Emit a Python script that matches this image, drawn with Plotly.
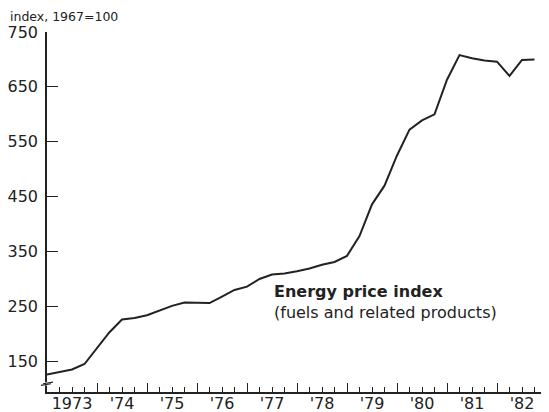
import plotly.graph_objects as go

# quarterly energy price index, 1973Q1 .. 1982Q4
quarters = [1973 + i * 0.25 for i in range(40)]
index_values = [126, 130, 135, 145, 175, 203, 226, 229, 234, 243,
                251, 257, 257, 256, 268, 280, 286, 300, 308, 310,
                314, 319, 326, 331, 342, 378, 436, 470, 525, 572,
                589, 600, 663, 708, 702, 698, 696, 670, 699, 700]

year_ticks = list(range(1973, 1984))
label_pos = [y + 0.5 for y in range(1973, 1983)]
label_text = ["1973", "'74", "'75", "'76", "'77", "'78", "'79", "'80", "'81", "'82"]
y_ticks = [150, 250, 350, 450, 550, 650, 750]

FONT = "DejaVu Sans"
INK = "#222222"

fig = go.Figure()
fig.add_trace(go.Scatter(x=quarters, y=index_values, mode="lines",
                         line=dict(color=INK, width=2), showlegend=False,
                         xaxis="x", yaxis="y"))
# invisible trace for the label axis
fig.add_trace(go.Scatter(x=[quarters[0]], y=[index_values[0]], mode="markers",
                         marker=dict(opacity=0), showlegend=False,
                         xaxis="x2", yaxis="y", hoverinfo="skip"))

xr = [1973, 1983]
fig.update_layout(
    width=549, height=412,
    margin=dict(l=39, r=10, t=24, b=28),
    paper_bgcolor="white", plot_bgcolor="white",
    font=dict(family=FONT, color=INK, size=16),
    xaxis=dict(range=xr, tickmode="array", tickvals=year_ticks,
               ticktext=[""] * len(year_ticks), ticks="inside", ticklen=9,
               tickwidth=1.3, tickcolor=INK, showline=True, linecolor=INK,
               linewidth=1.5, showgrid=False, zeroline=False,
               minor=dict(tickmode="linear", tick0=1973, dtick=0.25,
                          ticks="inside", ticklen=5, tickcolor=INK, tickwidth=1,
                          showgrid=False),
               automargin=False),
    xaxis2=dict(range=xr, overlaying="x", side="bottom", tickmode="array",
                tickvals=label_pos, ticktext=label_text, ticks="",
                showline=False, showgrid=False, zeroline=False,
                tickfont=dict(family=FONT, size=16, color=INK),
                automargin=False),
    yaxis=dict(range=[94, 750], tickmode="array", tickvals=y_ticks,
               ticks="inside", ticklen=11, tickwidth=1.3, tickcolor=INK,
               showline=True, linecolor=INK, linewidth=1.5, showgrid=False,
               zeroline=False, tickfont=dict(family=FONT, size=16, color=INK),
               ticklabelstandoff=4, automargin=False),
)

fig.add_annotation(text="index, 1967=100", xref="paper", yref="paper",
                   x=-39 / 500, y=1.0, xanchor="left", yanchor="bottom",
                   yshift=6, showarrow=False,
                   font=dict(family=FONT, size=12.5, color=INK))
fig.add_annotation(text="<b>Energy price index</b>", xref="x", yref="y",
                   x=1977.5, y=277, xanchor="left", yanchor="middle",
                   showarrow=False, font=dict(family=FONT, size=16, color=INK))
fig.add_annotation(text="(fuels and related products)", xref="x", yref="y",
                   x=1977.5, y=239, xanchor="left", yanchor="middle",
                   showarrow=False, font=dict(family=FONT, size=16, color=INK))

# axis break mark on y axis
fig.add_shape(type="rect", xref="paper", yref="y", x0=-0.012, x1=0.012,
              y0=106, y1=112, fillcolor="white", line=dict(width=0))
fig.add_shape(type="line", xref="paper", yref="y", x0=-0.012, x1=0.008,
              y0=106, y1=109, line=dict(color=INK, width=1.2))
fig.add_shape(type="line", xref="paper", yref="y", x0=-0.008, x1=0.012,
              y0=109, y1=112, line=dict(color=INK, width=1.2))

fig.write_html("out.html")
